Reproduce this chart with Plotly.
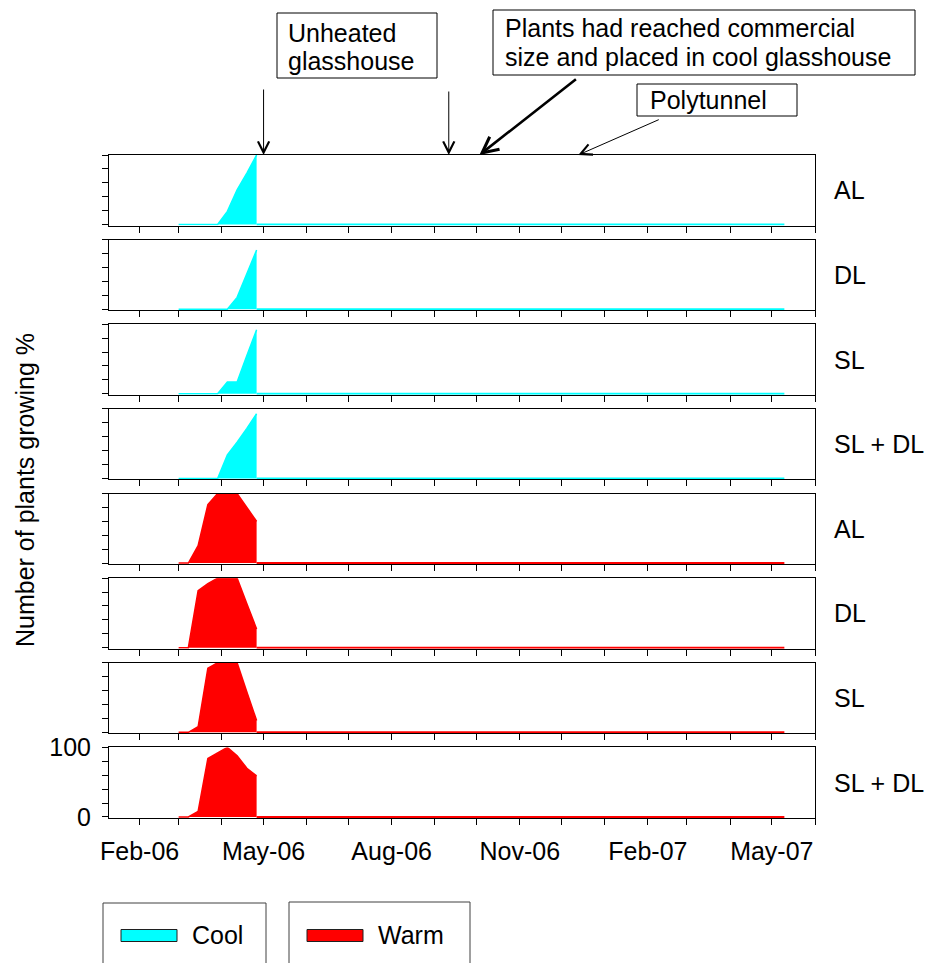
import plotly.graph_objects as go

W, H = 926, 963
FONT = "Liberation Sans, Arial, sans-serif"
FS = 25

# ---------------- data ----------------
growth_dates = ["2006-03-01", "2006-03-08", "2006-03-15", "2006-03-22", "2006-03-29",
                "2006-04-05", "2006-04-12", "2006-04-19", "2006-04-26"]
tail_dates = ["2006-04-26", "2007-05-10"]
tail_values = [0, 0]

panel_labels = ["AL", "DL", "SL", "SL + DL", "AL", "DL", "SL", "SL + DL"]
panel_groups = ["Cool", "Cool", "Cool", "Cool", "Warm", "Warm", "Warm", "Warm"]

cool_AL = [0, 0, 0, 0, 0, 19, 50, 74, 100]
cool_DL = [0, 0, 0, 0, 0, 0, 17, 50, 85]
cool_SL = [0, 0, 0, 0, 0, 17, 17, 55, 92]
cool_SLDL = [0, 0, 0, 0, 0, 34, 52, 72, 93]
warm_AL = [0, 0, 25, 84, 100, 100, 100, 80, 60]
warm_DL = [0, 0, 82, 92, 100, 100, 100, 63, 27]
warm_SL = [0, 0, 8, 92, 100, 100, 100, 58, 17]
warm_SLDL = [0, 0, 8, 84, 92, 100, 88, 70, 59]
panel_values = [cool_AL, cool_DL, cool_SL, cool_SLDL, warm_AL, warm_DL, warm_SL, warm_SLDL]

group_names = ["Cool", "Warm"]
group_colors = {"Cool": "#00FFFF", "Warm": "#FF0000"}

tick_dates = ["2006-02-01", "2006-03-01", "2006-04-01", "2006-05-01", "2006-06-01",
              "2006-07-01", "2006-08-01", "2006-09-01", "2006-10-01", "2006-11-01",
              "2006-12-01", "2007-01-01", "2007-02-01", "2007-03-01", "2007-04-01",
              "2007-05-01", "2007-06-01"]
tick_labels = ["Feb-06", "", "", "May-06", "", "", "Aug-06", "", "", "Nov-06",
               "", "", "Feb-07", "", "", "May-07", ""]
y_ticks = [0, 20, 40, 60, 80, 100]
y_labels = ["0", "", "", "", "", "100"]

x_range = ["2006-01-10", "2007-06-01"]

# annotation arrow targets (dates on the time axis)
arrow_unheated = "2006-05-01"
arrow_second = "2006-09-11"
arrow_commercial = "2006-10-03"
arrow_polytunnel = "2006-12-13"

# ---------------- layout helpers ----------------
def px(x):
    return x / W

def py(y):
    return 1 - y / H

left, right = 109, 815
top1, bottom8 = 155, 818
n = 8
ph = 70.6
gap = (bottom8 - top1 - n * ph) / (n - 1)

fig = go.Figure()
layout = dict(
    width=W, height=H, margin=dict(l=0, r=0, t=0, b=0, pad=0, autoexpand=False),
    paper_bgcolor="white", plot_bgcolor="white", showlegend=False,
    font=dict(family=FONT, size=FS, color="black"),
)

annotations = []
shapes = []

for i in range(n):
    t = top1 + i * (ph + gap)
    b = t + ph
    xname = "x" if i == 0 else f"x{i+1}"
    yname = "y" if i == 0 else f"y{i+1}"
    color = group_colors[panel_groups[i]]
    last = (i == n - 1)

    fig.add_trace(go.Scatter(
        x=growth_dates, y=panel_values[i], mode="lines",
        line=dict(color=color, width=1.5), fill="tozeroy", fillcolor=color,
        xaxis=xname, yaxis=yname, hoverinfo="skip"))
    fig.add_trace(go.Scatter(
        x=tail_dates, y=tail_values, mode="lines",
        line=dict(color=color, width=2),
        xaxis=xname, yaxis=yname, hoverinfo="skip"))

    layout["xaxis" if i == 0 else f"xaxis{i+1}"] = dict(
        domain=[px(left), px(right)], anchor=yname, type="date", range=x_range,
        tickmode="array", tickvals=tick_dates, ticktext=tick_labels,
        showticklabels=last, ticks="outside", ticklen=6, tickwidth=1, tickcolor="black",
        showline=True, linecolor="black", linewidth=1, mirror=True,
        showgrid=False, zeroline=False, ticklabelstandoff=5, automargin=False,
        tickfont=dict(family=FONT, size=FS, color="black"))
    layout["yaxis" if i == 0 else f"yaxis{i+1}"] = dict(
        domain=[py(b), py(t)], anchor=xname, range=[-1.5, 100],
        tickmode="array", tickvals=y_ticks, ticktext=y_labels,
        showticklabels=last, ticks="outside", ticklen=6, tickwidth=1, tickcolor="black",
        showline=True, linecolor="black", linewidth=1, mirror=True,
        showgrid=False, zeroline=False, ticklabelstandoff=6, automargin=False,
        tickfont=dict(family=FONT, size=FS, color="black"))

    annotations.append(dict(
        x=px(832), y=py((t + b) / 2), xref="paper", yref="paper",
        text=panel_labels[i], showarrow=False, xanchor="left", yanchor="middle",
        font=dict(family=FONT, size=FS)))

# y axis title
annotations.append(dict(
    x=px(25), y=py(490), xref="paper", yref="paper", text="Number of plants growing %",
    textangle=-90, showarrow=False, xanchor="center", yanchor="middle",
    font=dict(family=FONT, size=FS)))

# top text boxes
def box(x0, y0, x1, y1, color="black"):
    shapes.append(dict(type="rect", xref="paper", yref="paper",
                       x0=px(x0), x1=px(x1), y0=py(y1), y1=py(y0),
                       line=dict(color=color, width=1), fillcolor="white", layer="above"))

def text_line(x, y, s):
    annotations.append(dict(x=px(x), y=py(y), xref="paper", yref="paper", text=s,
                            showarrow=False, xanchor="left", yanchor="middle",
                            font=dict(family=FONT, size=FS)))

box(277, 13, 437, 78)
text_line(286, 33, "Unheated")
text_line(286, 61, "glasshouse")

box(493, 10, 915, 75)
text_line(503, 28, "Plants had reached commercial")
text_line(503, 57, "size and placed in cool glasshouse")

box(637, 84, 797, 116)
text_line(648, 100, "Polytunnel")

# arrows
def arrow(xdate, ax, ay, width, head, size):
    annotations.append(dict(x=xdate, y=100, xref="x", yref="y", text="", showarrow=True,
                            ax=ax, ay=ay, arrowhead=head, arrowsize=size,
                            arrowwidth=width, arrowcolor="black", standoff=0))

arrow(arrow_unheated, 0, -67, 1, 5, 2.2)
arrow(arrow_second, 0, -65, 1, 5, 2.2)
arrow(arrow_commercial, 98, -77, 2.6, 5, 1.2)
arrow(arrow_polytunnel, 82, -36, 1, 5, 2.2)

# legend (two boxed entries)
legend_boxes = [(103, 903, 266), (289, 902, 470)]
for name, (bx0, by0, bx1) in zip(group_names, legend_boxes):
    shapes.append(dict(type="rect", xref="paper", yref="paper",
                       x0=px(bx0), x1=px(bx1), y0=py(990), y1=py(by0),
                       line=dict(color="#404040", width=1), fillcolor="white"))
    sx0 = bx0 + 18
    shapes.append(dict(type="rect", xref="paper", yref="paper",
                       x0=px(sx0), x1=px(sx0 + 56), y0=py(941.5), y1=py(929.5),
                       line=dict(color="#202020", width=1), fillcolor=group_colors[name]))
    annotations.append(dict(x=px(sx0 + 69), y=py(935), xref="paper", yref="paper",
                            text=name, showarrow=False, xanchor="left", yanchor="middle",
                            font=dict(family=FONT, size=FS)))

layout["annotations"] = annotations
layout["shapes"] = shapes
fig.update_layout(**layout)
fig.write_html("out.html")
